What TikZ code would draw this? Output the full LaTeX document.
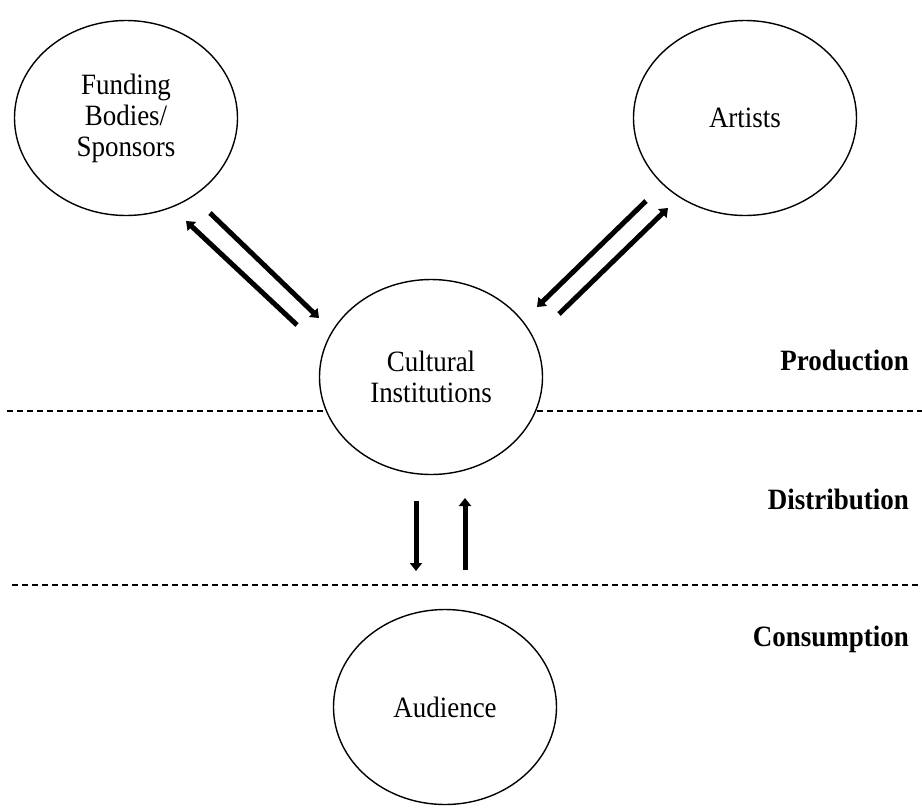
\documentclass[tikz,border=0pt]{standalone}
\usepackage{fontspec}
\setmainfont[FakeStretch=0.915]{Liberation Serif}
\usetikzlibrary{shapes.geometric,arrows.meta}
\begin{document}
\begin{tikzpicture}[x=1pt,y=-1pt,
  actor/.style={draw, line width=1.4pt, fill=white, ellipse, minimum width=223pt, minimum height=195pt, inner sep=0pt, align=center, font=\fontsize{29.5}{31}\selectfont},
  flow/.style={line width=5pt, -{Triangle[width=12pt,length=8pt]}},
  divider/.style={line width=1.3pt, dash pattern=on 6pt off 4pt},
  stage/.style={anchor=east, inner sep=0pt, font=\fontsize{29.5}{31}\selectfont\bfseries}]
\useasboundingbox (0,0) rectangle (922,807);
% dividers
\coordinate (d1a) at (7,411);
\coordinate (d1b) at (922,411);
\coordinate (d2a) at (12,585);
\coordinate (d2b) at (922,585);
\draw[divider] (d1a) -- (d1b);
\draw[divider] (d2a) -- (d2b);
% circles
\node[actor] (fund) at (126,118) {Funding\\Bodies/\\Sponsors};
\node[actor] (art) at (745,118) {Artists};
\node[actor] (cult) at (431,377) {Cultural\\Institutions};
\node[actor] (aud) at (445,707) {Audience};
% stage labels
\node[stage] (prod) at (909,360) {Production};
\node[stage] (dist) at (909,499) {Distribution};
\node[stage] (cons) at (909,639) {Consumption};
% arrow end points
\coordinate (fa1) at (297,325);
\coordinate (fa2) at (186,221);
\coordinate (fb1) at (210,213);
\coordinate (fb2) at (319,318);
\coordinate (ac1) at (646,201);
\coordinate (ac2) at (537,307);
\coordinate (ad1) at (559,314);
\coordinate (ad2) at (668,208);
\coordinate (va1) at (416,501);
\coordinate (va2) at (416,571);
\coordinate (vb1) at (465,570);
\coordinate (vb2) at (465,498);
% arrows
\draw[flow] (fa1) -- (fa2);
\draw[flow] (fb1) -- (fb2);
\draw[flow] (ac1) -- (ac2);
\draw[flow] (ad1) -- (ad2);
\draw[flow] (va1) -- (va2);
\draw[flow] (vb1) -- (vb2);
\end{tikzpicture}
\end{document}
